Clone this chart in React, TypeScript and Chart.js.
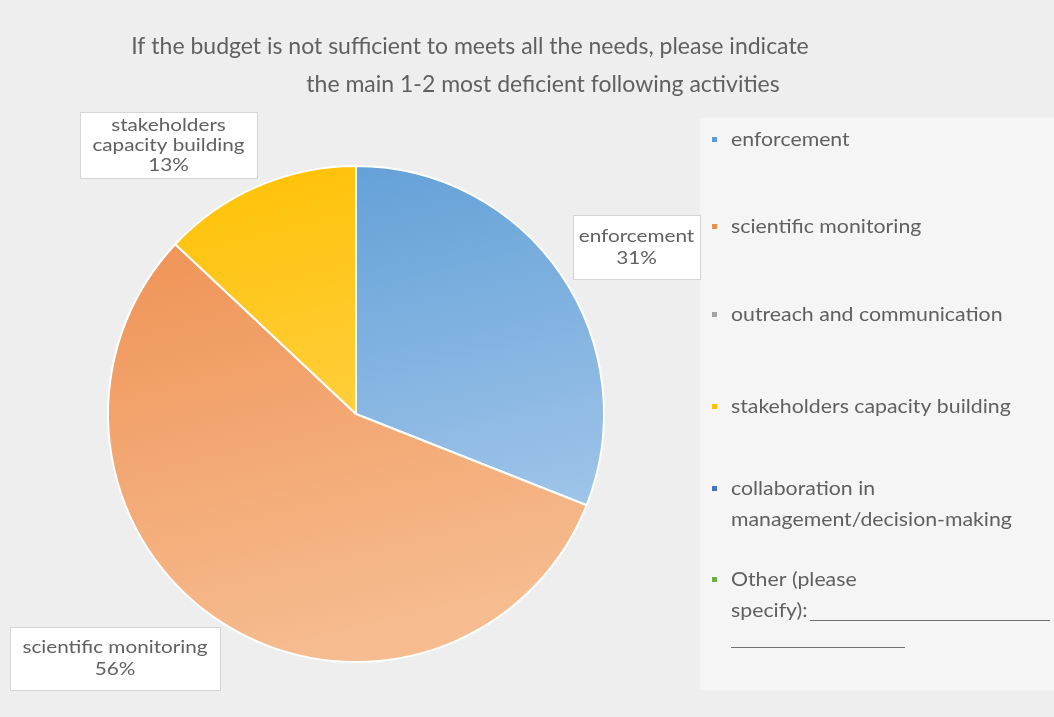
import { useEffect, useRef } from "react";
import { Chart, registerables } from "chart.js";
Chart.register(...registerables);

const titleLines = [
  "If the budget is not sufficient to meets all the needs, please indicate",
  "the main 1-2 most deficient following activities",
];
const categories = [
  "enforcement",
  "scientific monitoring",
  "outreach and communication",
  "stakeholders capacity building",
  "collaboration in management/decision-making",
  "Other (please specify):",
];
const values = [31, 56, 0, 13, 0, 0];
const legendLines = [
  ["enforcement"],
  ["scientific monitoring"],
  ["outreach and communication"],
  ["stakeholders capacity building"],
  ["collaboration in", "management/decision-making"],
  ["Other (please", "specify):"],
];
const dataLabelLines = [
  ["enforcement", "31%"],
  ["scientific monitoring", "56%"],
  [],
  ["stakeholders", "capacity building", "13%"],
  [],
  [],
];

const colorTop = ["#5b9bd5", "#ee8c4c", "#a5a5a5", "#ffc000", "#4472c4", "#70ad47"];
const colorBottom = ["#a9cbec", "#f6bb8e", "#c8c8c8", "#ffd966", "#4472c4", "#70ad47"];

const FONT = "Lato, 'Open Sans', sans-serif";
const TEXT = "#606060";

function stretchText(ctx: CanvasRenderingContext2D, text: string, x: number, y: number, sx: number, align: "left" | "center") {
  const w = ctx.measureText(text).width * sx;
  const left = align === "center" ? x - w / 2 : x;
  ctx.save();
  ctx.textAlign = "left";
  ctx.translate(left, y);
  ctx.scale(sx, 1);
  ctx.fillText(text, 0, 0);
  ctx.restore();
}

const decorPlugin = {
  id: "decor",
  beforeDraw(chart: any) {
    const ctx = chart.ctx;
    ctx.save();
    ctx.fillStyle = "#eeeeee";
    ctx.fillRect(0, 0, chart.width, chart.height);
    ctx.fillStyle = "#f5f5f5";
    ctx.fillRect(700, 118, 354, 572);
    ctx.restore();
  },
  afterDraw(chart: any) {
    const ctx = chart.ctx;
    ctx.save();
    ctx.fillStyle = TEXT;
    ctx.textBaseline = "middle";
    ctx.font = `23px ${FONT}`;
    stretchText(ctx, titleLines[0], 470, 47, 1.0, "center");
    stretchText(ctx, titleLines[1], 543, 85, 1.0, "center");

    // data labels: [left, top, width, height]
    const boxes: Record<number, [number, number, number, number]> = {
      0: [573, 215, 127, 64],
      1: [10, 627, 210, 63],
      3: [80, 112, 177, 66],
    };
    ctx.font = `18px ${FONT}`;
    Object.keys(boxes).forEach((k) => {
      const i = Number(k);
      const lines = dataLabelLines[i];
      const [bx, by, bw, bh] = boxes[i];
      ctx.fillStyle = "#ffffff";
      ctx.strokeStyle = "#d4d4d4";
      ctx.lineWidth = 1;
      ctx.fillRect(bx, by, bw, bh);
      ctx.strokeRect(bx + 0.5, by + 0.5, bw, bh);
      ctx.fillStyle = TEXT;
      const lineH = lines.length > 2 ? 20 : 22;
      const cx = bx + bw / 2;
      const cy = by + bh / 2;
      const y0 = cy - ((lines.length - 1) * lineH) / 2;
      lines.forEach((l, j) => stretchText(ctx, l, cx, y0 + j * lineH, 1.15, "center"));
    });

    // legend
    const legendY = [140, 227, 315, 407, 489, 580];
    ctx.font = `19px ${FONT}`;
    legendLines.forEach((lines, i) => {
      ctx.fillStyle = colorTop[i];
      ctx.fillRect(712, legendY[i] - 3, 5, 5);
      ctx.fillStyle = TEXT;
      lines.forEach((l, j) => stretchText(ctx, l, 731, legendY[i] + j * 31, 1.12, "left"));
    });
    ctx.strokeStyle = "#707070";
    ctx.lineWidth = 1;
    ctx.beginPath();
    ctx.moveTo(810, 620.5);
    ctx.lineTo(1050, 620.5);
    ctx.moveTo(731, 647.5);
    ctx.lineTo(905, 647.5);
    ctx.stroke();
    ctx.restore();
  },
};

export default function App() {
  const ref = useRef<HTMLCanvasElement>(null);
  useEffect(() => {
    document.body.style.margin = "0";
    const fill = (c: any) => {
      const i = c.dataIndex ?? 0;
      const area = c.chart.chartArea;
      if (!area) return colorTop[i];
      const g = c.chart.ctx.createLinearGradient(area.left, area.top, area.left + 120, area.bottom);
      g.addColorStop(0, colorTop[i]);
      g.addColorStop(1, colorBottom[i]);
      return g;
    };
    const chart = new Chart(ref.current!, {
      type: "pie",
      data: {
        labels: categories,
        datasets: [
          {
            data: values,
            backgroundColor: fill as any,
            borderColor: "#ffffff",
            borderWidth: 2,
          },
        ],
      },
      options: {
        responsive: false,
        animation: false,
        layout: { padding: { left: 107, top: 165, right: 449, bottom: 54 } },
        plugins: { legend: { display: false }, tooltip: { enabled: false }, title: { display: false } },
      },
      plugins: [decorPlugin],
    });
    return () => chart.destroy();
  }, []);
  return (
    <div style={{ width: 1054, height: 717 }}>
      <canvas ref={ref} width={1054} height={717} style={{ display: "block" }} />
    </div>
  );
}
